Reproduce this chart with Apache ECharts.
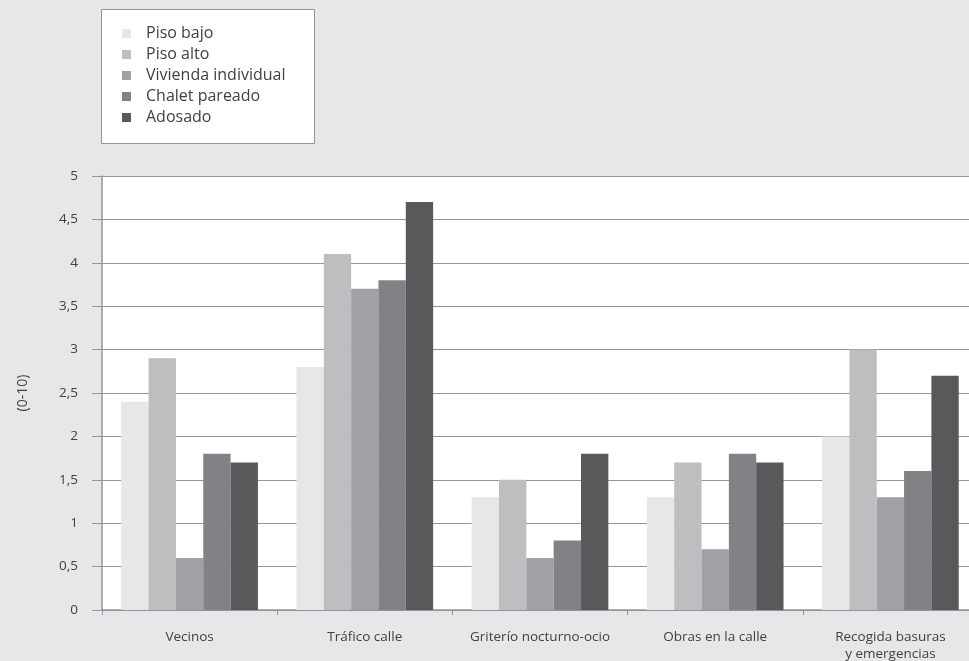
<!DOCTYPE html>
<html>
<head>
<meta charset="utf-8">
<script src="https://cdn.jsdelivr.net/npm/echarts@6/dist/echarts.min.js"></script>
<style>
html,body{margin:0;padding:0;background:#e6e7e8;}
#c{width:969px;height:661px;}
</style>
</head>
<body>
<div id="c"></div>
<script>
var categories = ['Vecinos', 'Tráfico calle', 'Griterío nocturno-ocio', 'Obras en la calle', 'Recogida basuras\ny emergencias'];
var seriesNames = ['Piso bajo', 'Piso alto', 'Vivienda individual', 'Chalet pareado', 'Adosado'];
var pisoBajo = [2.4, 2.8, 1.3, 1.3, 2.0];
var pisoAlto = [2.9, 4.1, 1.5, 1.7, 3.0];
var viviendaIndividual = [0.6, 3.7, 0.6, 0.7, 1.3];
var chaletPareado = [1.8, 3.8, 0.8, 1.8, 1.6];
var adosado = [1.7, 4.7, 1.8, 1.7, 2.7];
var seriesColors = ['#e6e7e8', '#bcbec0', '#a0a1a4', '#808285', '#58595b'];
var yTicks = { min: 0, max: 5, interval: 0.5 };

var values = [pisoBajo, pisoAlto, viviendaIndividual, chaletPareado, adosado];
var chart = echarts.init(document.getElementById('c'));
var font = '"Open Sans", "Noto Sans", sans-serif';
chart.setOption({
  backgroundColor: '#e6e7e8',
  animation: false,
  textStyle: { fontFamily: font },
  graphic: [{
    type: 'rect',
    shape: { x: 101.5, y: 9.5, width: 213, height: 134 },
    style: { fill: '#ffffff', stroke: '#939598', lineWidth: 1 },
    z: 0
  }],
  legend: {
    orient: 'vertical',
    left: 122,
    top: 23,
    itemWidth: 9,
    itemHeight: 9,
    itemGap: 0,
    padding: 0,
    icon: 'rect',
    textStyle: { fontFamily: font, fontSize: 16, color: '#414042', lineHeight: 21, padding: [0, 0, 0, 10] },
    data: seriesNames
  },
  grid: {
    left: 102, top: 176, bottom: 51, width: 876,
    show: true, backgroundColor: '#ffffff', borderWidth: 0,
    containLabel: false,
    outerBoundsMode: 'none'
  },
  xAxis: {
    type: 'category',
    data: categories,
    boundaryGap: true,
    axisLine: { lineStyle: { color: '#939598', width: 1.5 } },
    axisTick: { show: true, length: 5, lineStyle: { color: '#939598' } },
    axisLabel: { interval: 0, fontFamily: font, fontSize: 13.5, color: '#414042', margin: 19, lineHeight: 17 },
    splitLine: { show: false }
  },
  yAxis: {
    type: 'value',
    min: yTicks.min, max: yTicks.max, interval: yTicks.interval,
    name: '(0-10)',
    nameLocation: 'middle',
    nameRotate: 90,
    nameGap: 72,
    nameTextStyle: { fontFamily: font, fontSize: 14, color: '#414042' },
    axisLine: { show: true, lineStyle: { color: '#939598', width: 1.5 } },
    axisTick: { show: true, length: 10, lineStyle: { color: '#939598' } },
    axisLabel: {
      fontFamily: font, fontSize: 13.5, color: '#414042', margin: 24,
      formatter: function (v) { return String(v).replace('.', ','); }
    },
    splitLine: { show: true, lineStyle: { color: '#939598', width: 1 } }
  },
  series: seriesNames.map(function (n, i) {
    return {
      name: n,
      type: 'bar',
      data: values[i],
      barGap: '0%',
      barCategoryGap: '22%',
      itemStyle: { color: seriesColors[i] }
    };
  })
});
</script>
</body>
</html>
